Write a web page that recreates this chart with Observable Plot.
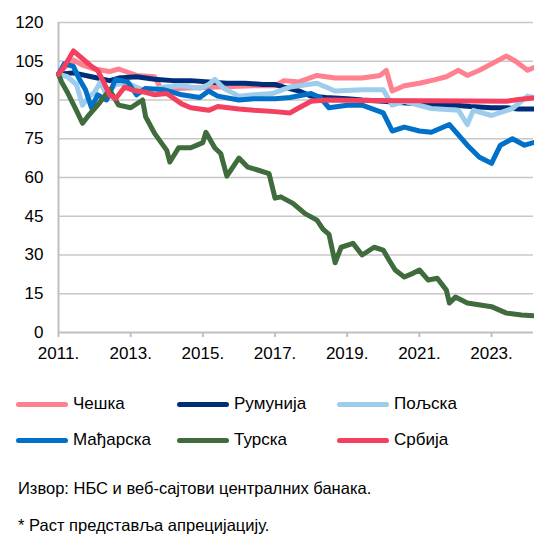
<!DOCTYPE html>
<html><head><meta charset="utf-8">
<script src="https://cdn.jsdelivr.net/npm/d3@7"></script>
<script src="https://cdn.jsdelivr.net/npm/@observablehq/plot@0.6"></script>
<style>
body{margin:0;background:#fff;font-family:"Liberation Sans",Arial,sans-serif;color:#000;}
#wrap{position:relative;width:534px;height:534px;overflow:hidden;}
#chart{position:absolute;left:0;top:0;}
.item{position:absolute;display:flex;align-items:center;font-size:17px;height:20px;}
.sw{width:52px;height:5px;border-radius:3px;margin-right:5px;}
.note{position:absolute;left:18px;font-size:16.5px;line-height:20px;white-space:nowrap;}
</style>
</head><body>
<div id="wrap"><div id="chart"></div></div>
<script>
const countries = ["Чешка","Румунија","Пољска","Мађарска","Турска","Србија"];
const colors = ["#FF808F","#002D7A","#9DCDEB","#0070C8","#406B3C","#F4405F"];
const yTicks = [0,15,30,45,60,75,90,105,120];
const xTickYears = [2011,2013,2015,2017,2019,2021,2023];
const xDomain = ["2011-01","2024-03"];

const czech = [["2011-01",100],["2011-03",102.5],["2011-06",105.5],["2011-09",103.5],["2012-01",102],["2012-06",101],["2012-09",102],["2013-03",99.5],["2013-09",99],["2013-11",94.5],["2014-06",94.5],["2015-06",95],["2016-06",95.5],["2017-01",95.5],["2017-04",97.5],["2017-09",97],["2018-03",99.5],["2018-09",98.5],["2019-06",98.5],["2019-12",99.5],["2020-02",101.5],["2020-04",93.5],["2020-08",95.5],["2021-01",96.5],["2021-06",97.8],["2021-10",99],["2022-02",101.5],["2022-05",99.5],["2022-09",101.5],["2023-01",104],["2023-06",107],["2023-09",105],["2024-01",101.5],["2024-03",102.5]];
const romania = [["2011-01",100],["2011-06",100.5],["2011-12",99],["2012-06",97.5],["2012-09",98.5],["2013-03",99],["2013-09",98],["2014-03",97.5],["2014-09",97.5],["2015-03",97],["2015-09",96.5],["2016-03",96.5],["2016-09",96],["2017-01",96],["2017-04",95],["2017-09",93.5],["2018-01",91.5],["2018-06",91],["2019-01",90.5],["2019-06",90],["2020-01",89.5],["2020-06",89],["2021-01",88.5],["2021-06",88],["2022-01",88],["2022-06",87.5],["2023-01",87],["2023-06",87],["2023-10",86.5],["2024-03",86.5]];
const poland = [["2011-01",100],["2011-04",99],["2011-07",96],["2011-09",88],["2011-11",91],["2012-01",93],["2012-03",97],["2012-05",92],["2012-08",96],["2012-12",96.5],["2013-06",93.5],["2013-12",95],["2014-06",95.5],["2014-12",94.5],["2015-03",96],["2015-05",98],["2015-08",94.5],["2016-01",91.5],["2016-06",92],["2016-12",92.5],["2017-06",95],["2018-03",96.5],["2018-09",93.5],["2019-06",94],["2020-01",94],["2020-04",88],["2020-08",89.5],["2021-05",86.7],["2022-02",86],["2022-05",80.5],["2022-07",86],["2023-01",84],["2023-08",86.7],["2024-01",91.5],["2024-03",91]];
const hungary = [["2011-01",100],["2011-03",104],["2011-06",103],["2011-08",98],["2011-10",94],["2011-12",87],["2012-02",92],["2012-05",90],["2012-08",98],["2012-12",97],["2013-03",92],["2013-06",94.5],["2013-12",94],["2014-06",92],["2014-12",91],["2015-03",93.5],["2015-06",91.5],["2016-01",90],["2016-06",90.5],["2017-01",90.5],["2017-06",91],["2018-01",92.5],["2018-04",91],["2018-07",87],["2019-01",88],["2019-06",88],["2020-01",85],["2020-04",78],["2020-08",79.5],["2021-01",78],["2021-05",77.5],["2021-11",80.5],["2022-05",72.5],["2022-09",67.8],["2023-01",65.5],["2023-04",72.5],["2023-08",75],["2023-12",72.5],["2024-03",73.5]];
const turkey = [["2011-01",100],["2011-02",97],["2011-04",93],["2011-07",86],["2011-09",81],["2011-11",84],["2012-02",88],["2012-06",94],["2012-09",88],["2013-01",87],["2013-05",90],["2013-06",83.5],["2013-09",77],["2014-01",70.5],["2014-02",66],["2014-05",71.5],["2014-09",71.5],["2015-01",73.5],["2015-02",77.5],["2015-05",71.5],["2015-07",69.3],["2015-09",60.5],["2016-01",67.5],["2016-04",64],["2016-07",63],["2016-11",61.5],["2017-01",52],["2017-03",52.5],["2017-07",50],["2017-11",46],["2018-03",43.5],["2018-05",40],["2018-07",38],["2018-09",27],["2018-11",33],["2019-03",34.5],["2019-06",30],["2019-10",33],["2020-01",31.9],["2020-03",28],["2020-05",24.2],["2020-08",21.5],["2020-11",23],["2021-01",24.2],["2021-04",20.3],["2021-07",21],["2021-10",16.4],["2021-11",11.4],["2022-01",13.7],["2022-05",11.4],["2023-01",10],["2023-06",7.5],["2023-11",6.8],["2024-03",6.5]];
const serbia = [["2011-01",100],["2011-03",103],["2011-06",109],["2011-10",105],["2011-12",103],["2012-02",101.5],["2012-04",97],["2012-06",92],["2012-08",90.5],["2012-11",95],["2013-02",93.7],["2013-06",93],["2013-09",92],["2014-01",92.5],["2014-06",88.5],["2014-09",87],["2015-03",86],["2015-06",87.5],["2016-01",86.5],["2016-06",86],["2017-01",85.5],["2017-06",85],["2017-09",87],["2018-01",89.5],["2018-06",90],["2019-06",89.8],["2021-01",89.7],["2022-06",89.6],["2023-06",89.5],["2023-10",90.2],["2024-03",90.8]];

const parse = d3.utcParse("%Y-%m");
const series = [czech, romania, poland, hungary, turkey, serbia];
const data = series.flatMap((s, i) => s.map(([d, v]) => ({country: countries[i], date: parse(d), value: v})));
const xTicks = xTickYears.map(y => new Date(Date.UTC(y, 0, 1)));
const x0 = parse(xDomain[0]);

const plot = Plot.plot({
  width: 534, height: 370,
  marginTop: 22, marginBottom: 38, marginLeft: 58, marginRight: 1,
  style: {fontFamily: '"Liberation Sans", Arial, sans-serif', fontSize: "17px", color: "#000", background: "#fff"},
  x: {type: "utc", domain: xDomain.map(parse)},
  y: {domain: [0, 120]},
  color: {domain: countries, range: colors},
  marks: [
    Plot.gridY(yTicks.filter(v => v > 0), {stroke: "#c8c8c8", strokeOpacity: 1, strokeWidth: 1.5}),
    Plot.ruleX([x0], {stroke: "#bfbfbf", strokeWidth: 2}),
    Plot.ruleY([0], {stroke: "#bfbfbf", strokeWidth: 2}),
    Plot.axisY(yTicks, {tickSize: 0, tickPadding: 15, fontSize: 17, label: null, tickFormat: d => String(d)}),
    Plot.axisX(xTicks, {tickSize: 5, tickPadding: 9, stroke: "#bfbfbf", strokeWidth: 2, fill: "#000", fontSize: 17, label: null, tickFormat: d => d.getUTCFullYear() + "."}),
    Plot.line(data, {x: "date", y: "value", z: "country", stroke: "country", strokeWidth: 5, strokeLinejoin: "round", strokeLinecap: "round"})
  ]
});
document.getElementById("chart").appendChild(plot);

const wrap = document.getElementById("wrap");
const legendPos = [[16,394],[177,394],[337,394],[16,430],[177,430],[337,430]];
countries.forEach((c, i) => {
  const it = document.createElement("div");
  it.className = "item";
  it.style.left = legendPos[i][0] + "px";
  it.style.top = legendPos[i][1] + "px";
  const sw = document.createElement("span");
  sw.className = "sw";
  sw.style.background = colors[i];
  const tx = document.createElement("span");
  tx.textContent = c;
  it.appendChild(sw); it.appendChild(tx);
  wrap.appendChild(it);
});
const notes = [["Извор: НБС и веб-сајтови централних банака.", 478], ["* Раст представља апрецијацију.", 515]];
notes.forEach(([t, top]) => {
  const n = document.createElement("div");
  n.className = "note";
  n.style.top = top + "px";
  n.textContent = t;
  wrap.appendChild(n);
});
</script>
</body></html>
